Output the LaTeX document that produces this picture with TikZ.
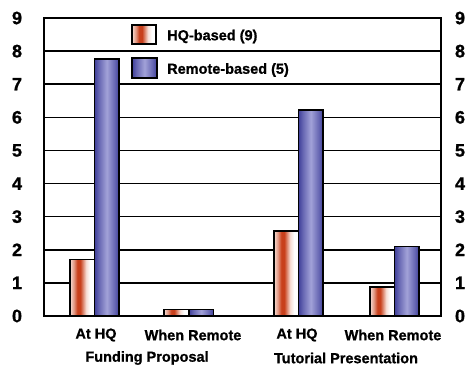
\documentclass[tikz,border=0pt]{standalone}
\usepackage{fontspec}
\setmainfont{Liberation Sans}[BoldFeatures={FakeBold=1}]
\definecolor{hqred}{HTML}{C8401C}
\definecolor{hqpale}{HTML}{F6DDD4}
\definecolor{rmdark}{HTML}{40409A}
\definecolor{rmlight}{HTML}{A2A2D8}
% the filled path spans 25bp..75bp of each shading
\pgfdeclarehorizontalshading{hqshade}{100bp}{color(0bp)=(hqpale); color(25bp)=(hqpale); color(33bp)=(hqpale!55!hqred); color(40bp)=(hqred); color(46bp)=(hqred); color(58bp)=(hqpale); color(66bp)=(white); color(100bp)=(white)}
\pgfdeclarehorizontalshading{rmshade}{100bp}{color(0bp)=(rmdark); color(25bp)=(rmdark); color(34bp)=(rmdark!60!rmlight); color(50bp)=(rmlight); color(66bp)=(rmdark!60!rmlight); color(75bp)=(rmdark); color(100bp)=(rmdark)}
\tikzset{
  tick/.style={font=\bfseries\fontsize{18}{18}\selectfont, inner sep=0pt},
  catlabel/.style={font=\bfseries\fontsize{14.5}{15}\selectfont, inner sep=0pt},
  legtext/.style={font=\bfseries\fontsize{14.5}{15}\selectfont, inner sep=0pt, anchor=west},
  gridline/.style={line width=1.5pt},
  frameline/.style={line width=2pt},
  hqbar/.style={draw, line width=1.5pt, shading=hqshade},
  rmbar/.style={draw, line width=1.5pt, shading=rmshade},
}
\begin{document}
\begin{tikzpicture}[x=1pt,y=-1pt]
\useasboundingbox (0,0) rectangle (471,370);
% chart body: value axis runs upward from the base line
\begin{scope}[yshift=-316pt, y=33.11pt]
  \foreach \v in {1,...,8} {
    \draw[gridline] (44,\v) -- (441,\v);
  }
  % bars
  \foreach \xl/\h in {70/1.7, 164/0.2, 274/2.57, 370/0.88} {
    \path[hqbar] (\xl,0) rectangle (\xl+24.5,\h);
  }
  \foreach \xl/\h in {94.5/7.76, 189/0.2, 298.5/6.22, 394.5/2.1} {
    \path[rmbar] (\xl,0) rectangle (\xl+24.5,\h);
  }
  \draw[frameline] (44,0) rectangle (441,9);
  % value labels on both sides
  \foreach \v in {0,...,9} {
    \node[tick] (l\v) at (17,\v) {\v};
    \node[tick] (r\v) at (460,\v) {\v};
  }
\end{scope}
% legend
\path[hqbar] (132,25) rectangle (156,44);
\path[rmbar] (132,58) rectangle (157,78);
\node[legtext] (leghq) at (167,36.5) {HQ-based (9)};
\node[legtext] (legrm) at (167,70) {Remote-based (5)};
% category labels
\node[catlabel] (c1) at (96,335) {At HQ};
\node[catlabel] (c2) at (193,335) {When Remote};
\node[catlabel] (c3) at (297,335) {At HQ};
\node[catlabel] (c4) at (393,335) {When Remote};
\node[catlabel] (g1) at (147,358) {Funding Proposal};
\node[catlabel] (g2) at (346,358) {Tutorial Presentation};
\end{tikzpicture}
\end{document}
